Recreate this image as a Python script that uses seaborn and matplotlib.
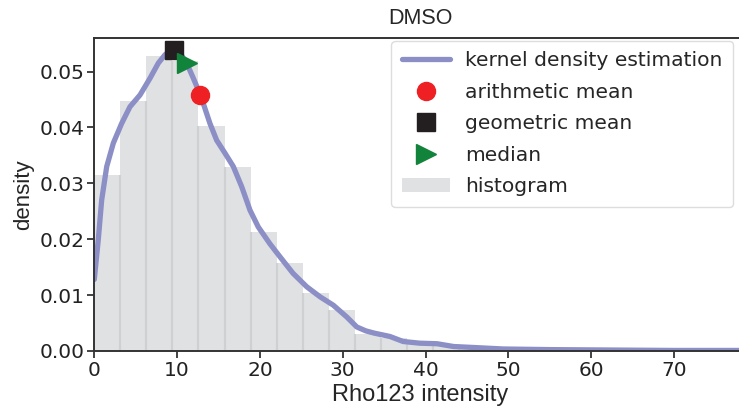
import matplotlib
matplotlib.use("Agg")
import matplotlib.pyplot as plt
import seaborn as sns

# histogram (density)
bin_edges = [0, 3.15, 6.29, 9.44, 12.58, 15.73, 18.88, 22.02, 25.17, 28.31,
             31.46, 34.61, 37.75, 40.9, 44.04, 47.19, 50.34, 53.48, 56.63,
             59.77, 62.92, 66.07, 69.21, 72.36, 75.5, 78.65]
hist_density = [0.0314, 0.0447, 0.0528, 0.0519, 0.0403, 0.0329, 0.0213, 0.0157,
                0.0103, 0.0073, 0.0030, 0.0024, 0.0018, 0.0012, 0.0008, 0.0005,
                0.0003, 0.0002, 0.0002, 0.0001, 0.0001, 0.0001, 0.0001, 0.0001,
                0.0001]

# kernel density estimate curve
kde_x = [0.0, 0.48, 0.89, 1.5, 2.3, 3.3, 4.31, 5.52, 6.73, 7.73, 8.54,
         9.5, 10.3, 11.16, 11.96, 12.56, 13.16, 13.97, 14.78, 15.78, 16.79,
         17.8, 18.8, 19.8, 21.2, 22.4, 24.0, 25.65, 27.26, 28.86, 30.48, 31.7,
         32.8, 33.8, 35.7, 37.3, 39.3, 41.4, 43.4, 46.2, 49.4, 55, 60, 65, 70,
         78.7]
kde_y = [0.0128, 0.0199, 0.0270, 0.0330, 0.0372, 0.0407, 0.0437,
         0.0458, 0.0488, 0.0515, 0.0530, 0.0541, 0.0534, 0.0515, 0.0488,
         0.0467, 0.0443, 0.0407, 0.0377, 0.0354, 0.0330, 0.0294, 0.0252,
         0.0222, 0.0192, 0.0169, 0.0139, 0.0115, 0.0097, 0.0082, 0.0061,
         0.0043, 0.0036, 0.0032, 0.0026, 0.0017, 0.0014, 0.0013, 0.0008,
         0.0006, 0.00036, 0.00025, 0.0002, 0.00015, 0.0001, 0.0001]

stats_labels = ["arithmetic mean", "geometric mean", "median"]
stats_x = [12.77, 9.63, 11.16]
stats_y = [0.0458, 0.0538, 0.0515]

sns.set_theme(style="ticks")
plt.rcParams["font.family"] = ["DejaVu Sans"]

fig = plt.figure(figsize=(7.39, 4.07), dpi=100)
ax = fig.add_axes([94.3 / 739, 1 - 351 / 407, (746 - 94.3) / 739, (351 - 37.7) / 407])

centers = [(a + b) / 2 for a, b in zip(bin_edges[:-1], bin_edges[1:])]
sns.histplot(x=centers, weights=hist_density, bins=bin_edges, stat="count",
             color="#e0e1e3", edgecolor="none", linewidth=0, alpha=1,
             label="histogram", ax=ax)
# faint seams between neighbouring bars
seam_top = [min(a, b) for a, b in zip(hist_density[:-1], hist_density[1:])]
ax.vlines(bin_edges[1:-1], 0, seam_top, color="#cfd0d2", linewidth=1.6)

sns.lineplot(x=kde_x, y=kde_y, sort=False, color="#8b8fc6", linewidth=3.8,
             label="kernel density estimation", ax=ax)

ax.plot(stats_x[0], stats_y[0], "o", color="#ee2024", markersize=13,
        linestyle="none", label=stats_labels[0])
ax.plot(stats_x[1], stats_y[1], "s", color="#231f20", markersize=13,
        linestyle="none", label=stats_labels[1])
ax.plot(stats_x[2], stats_y[2], ">", color="#12833b", markersize=14,
        linestyle="none", label=stats_labels[2])

ax.set_xlim(0, (746 - 94.3) / 8.28)
ax.set_ylim(0, 0.05605)
ax.set_xticks([0, 10, 20, 30, 40, 50, 60, 70])
ax.set_yticks([0, 0.01, 0.02, 0.03, 0.04, 0.05])
ax.yaxis.set_major_formatter(matplotlib.ticker.FormatStrFormatter("%.2f"))
ax.tick_params(labelsize=14.5, length=5, width=1.2, colors="#222222", pad=2)
for s in ax.spines.values():
    s.set_color("#333333")
    s.set_linewidth(1.4)

ax.set_title("DMSO", fontsize=15.5, family=["Liberation Sans"], pad=10)
ax.set_xlabel("Rho123 intensity", fontsize=17, family=["Liberation Sans"], labelpad=3)
ax.set_ylabel("density", fontsize=16, family=["Liberation Sans"], labelpad=4)

h, l = ax.get_legend_handles_labels()
order = ["kernel density estimation", "arithmetic mean", "geometric mean",
         "median", "histogram"]
hd = dict(zip(l, h))
ax.legend([hd[k] for k in order], order, loc="upper right",
          bbox_to_anchor=(733 / 739, 1 - 41 / 407), bbox_transform=fig.transFigure,
          borderaxespad=0, fontsize=14.6, labelspacing=0.62, handlelength=2.4,
          handletextpad=0.75, borderpad=0.5, frameon=True, framealpha=1,
          edgecolor="#dddddd", fancybox=True)

fig.savefig("out.png", dpi=100)
